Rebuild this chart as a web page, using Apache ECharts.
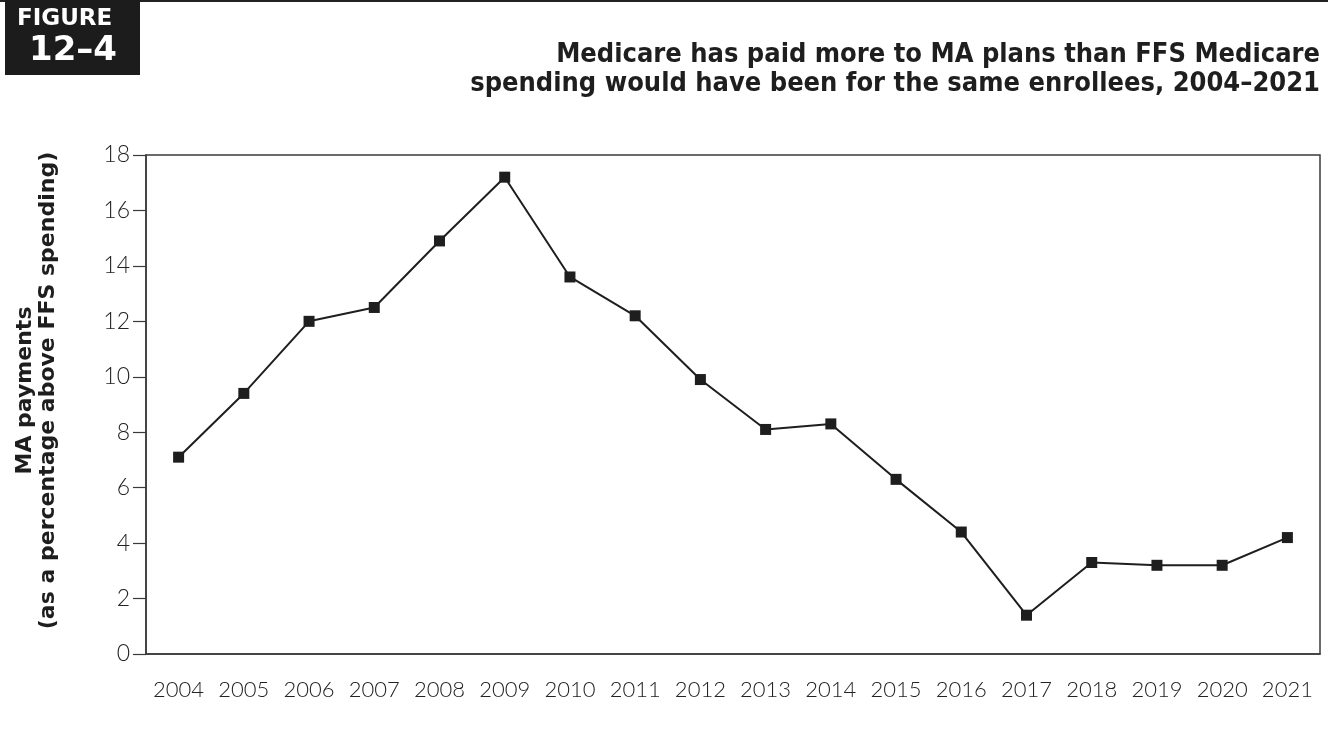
<!DOCTYPE html>
<html>
<head>
<meta charset="utf-8">
<script src="https://cdn.jsdelivr.net/npm/echarts@6/dist/echarts.min.js"></script>
<style>
  html, body { margin: 0; padding: 0; background: #fff; }
  #chart { width: 1328px; height: 734px; }
</style>
</head>
<body>
<div id="chart"></div>
<script>
// data
const years = ['2004', '2005', '2006', '2007', '2008', '2009', '2010', '2011', '2012',
  '2013', '2014', '2015', '2016', '2017', '2018', '2019', '2020', '2021']
const maAbovePct = [7.1, 9.4, 12.0, 12.5, 14.9, 17.2, 13.6, 12.2, 9.9,
  8.1, 8.3, 6.3, 4.4, 1.4, 3.3, 3.2, 3.2, 4.2]
const yTicks = { min: 0, max: 18, step: 2 }

const titleLines = [
  'Medicare has paid more to MA plans than FFS Medicare',
  'spending would have been for the same enrollees, 2004–2021'
]
const yName = 'MA payments\n(as a percentage above FFS spending)'

const axisColor = '#3a3a3a'
const ink = '#1e1e1e'
const titleFont = 'bold 27px "DejaVu Sans Condensed", "DejaVu Sans"'

const chart = echarts.init(document.getElementById('chart'))

const option = {
  animation: false,
  backgroundColor: '#fff',
  graphic: [
    // top rule
    { type: 'rect', shape: { x: 0, y: 0, width: 1328, height: 2 }, style: { fill: '#222' } },
    // figure box
    { type: 'rect', shape: { x: 5, y: 0, width: 135, height: 75 }, style: { fill: '#1c1c1c' } },
    {
      type: 'text', left: 17, top: 8,
      style: { text: 'FIGURE', fill: '#fff', font: 'bold 23px "DejaVu Sans"', letterSpacing: 5 }
    },
    {
      type: 'text', left: 29, top: 34,
      style: { text: '12–4', fill: '#fff', font: 'bold 34px "DejaVu Sans"', letterSpacing: 2 }
    },
    // chart title, each line right aligned
    { type: 'text', right: 8, top: 41, style: { text: titleLines[0], fill: ink, font: titleFont } },
    { type: 'text', right: 8, top: 70, style: { text: titleLines[1], fill: ink, font: titleFont } }
  ],
  grid: {
    left: 146,
    right: 8,
    top: 155,
    bottom: 80,
    outerBoundsMode: 'none',
    containLabel: false,
    show: true,
    borderColor: axisColor,
    borderWidth: 1.5
  },
  xAxis: {
    type: 'category',
    data: years,
    boundaryGap: true,
    axisLine: { lineStyle: { color: axisColor, width: 1.5 } },
    axisTick: { alignWithLabel: true, interval: 0, length: 14, lineStyle: { color: axisColor, width: 1.2 } },
    axisLabel: {
      interval: 0,
      margin: 25,
      fontFamily: 'Lato, Roboto, sans-serif',
      fontWeight: 300,
      fontSize: 22,
      color: '#222'
    },
    splitLine: { show: false }
  },
  yAxis: {
    type: 'value',
    min: yTicks.min,
    max: yTicks.max,
    interval: yTicks.step,
    name: yName,
    nameLocation: 'middle',
    nameRotate: 90,
    nameGap: 86,
    nameTextStyle: {
      fontFamily: 'DejaVu Sans',
      fontWeight: 'bold',
      fontSize: 22,
      lineHeight: 23,
      color: ink,
      padding: [0, 0, 0, 28]
    },
    axisLine: { show: true, lineStyle: { color: axisColor, width: 1.5 } },
    axisTick: { show: true, length: 13, lineStyle: { color: axisColor, width: 1.2 } },
    axisLabel: {
      margin: 16,
      fontFamily: 'Lato, Roboto, sans-serif',
      fontWeight: 300,
      fontSize: 23,
      color: '#222'
    },
    splitLine: { show: false }
  },
  series: [{
    type: 'line',
    data: maAbovePct,
    symbol: 'rect',
    symbolSize: 11,
    itemStyle: { color: ink },
    lineStyle: { color: ink, width: 2 }
  }]
}

chart.setOption(option)
</script>
</body>
</html>
